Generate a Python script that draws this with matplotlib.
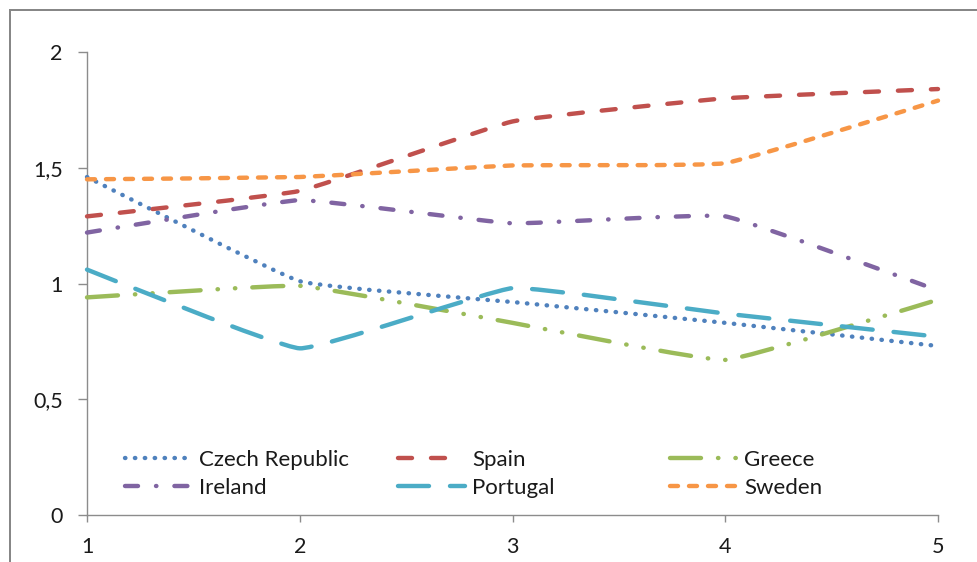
import matplotlib
matplotlib.use("Agg")
import matplotlib.pyplot as plt
import numpy as np
from matplotlib.path import Path
from matplotlib.patches import PathPatch
from matplotlib.lines import Line2D

plt.rcParams['font.family'] = ['Lato', 'DejaVu Sans']
plt.rcParams['lines.scale_dashes'] = False

# ---- data ----
x_vals = [1, 2, 3, 4, 5]
czech = [1.46, 1.01, 0.92, 0.83, 0.73]
spain = [1.29, 1.40, 1.70, 1.80, 1.84]
greece = [0.94, 0.99, 0.83, 0.67, 0.93]
ireland = [1.22, 1.36, 1.26, 1.29, 0.97]
portugal = [1.06, 0.72, 0.98, 0.87, 0.77]
sweden = [1.45, 1.46, 1.51, 1.52, 1.79]
y_ticks = [0, 0.5, 1, 1.5, 2]
y_tick_labels = ['0', '0,5', '1', '1,5', '2']
x_tick_labels = ['1', '2', '3', '4', '5']

W, H = 977, 562
fig = plt.figure(figsize=(W / 100, H / 100), dpi=100)
ax = fig.add_axes([87 / W, (H - 515) / H, (938 - 87) / W, (515 - 52) / H])
ax.set_xlim(1, 5)
ax.set_ylim(0, 2)

px = 0.72  # points per pixel
LW = 4.4 * px

series = [
    ('Czech Republic', czech, '#4F81BD', (0, (0.4 * px, 9.5 * px))),
    ('Spain', spain, '#C0504D', (0, (14 * px, 19 * px))),
    ('Greece', greece, '#9BBB59', (0, (31 * px, 17 * px, 0.4 * px, 17 * px, 0.4 * px, 17 * px))),
    ('Ireland', ireland, '#8064A2', (0, (13 * px, 18 * px, 0.4 * px, 18 * px))),
    ('Portugal', portugal, '#4BACC6', (0, (31 * px, 21 * px))),
    ('Sweden', sweden, '#F79646', (0, (8 * px, 11 * px))),
]
legend_styles = {'Spain': (0, (14 * px, 19 * px, 14 * px, 40 * px))}

TENSION = 1 / 20.0


def smooth_path(xs, ys):
    pts = np.column_stack([xs, ys]).astype(float)
    n = len(pts)
    verts = [pts[0]]
    codes = [Path.MOVETO]
    for i in range(n - 1):
        p0 = pts[i - 1] if i > 0 else pts[i]
        p3 = pts[i + 2] if i + 2 < n else pts[i + 1]
        c1 = pts[i] + (pts[i + 1] - p0) * TENSION
        c2 = pts[i + 1] - (p3 - pts[i]) * TENSION
        verts += [c1, c2, pts[i + 1]]
        codes += [Path.CURVE4] * 3
    return Path(verts, codes)


handles = {}
for name, vals, color, ls in series:
    patch = PathPatch(smooth_path(x_vals, vals), facecolor='none', edgecolor=color,
                      linewidth=LW, linestyle=ls, capstyle='round', joinstyle='round',
                      clip_on=False, zorder=3)
    ax.add_patch(patch)
    handles[name] = Line2D([], [], color=color, linewidth=LW,
                           linestyle=legend_styles.get(name, ls),
                           dash_capstyle='round', solid_capstyle='round')

# axes styling
axis_col = '#8c8c8c'
for s in ['top', 'right']:
    ax.spines[s].set_visible(False)
for s in ['left', 'bottom']:
    ax.spines[s].set_color(axis_col)
    ax.spines[s].set_linewidth(1.0)
ax.set_yticks(y_ticks)
ax.set_yticklabels(y_tick_labels)
ax.set_xticks(x_vals)
ax.set_xticklabels(x_tick_labels)
ax.tick_params(axis='y', direction='out', length=9 * px, width=1.0, color=axis_col,
               pad=11, labelsize=15.5, labelcolor='#1a1a1a')
ax.tick_params(axis='x', direction='out', length=7 * px, width=1.0, color=axis_col,
               pad=11, labelsize=15.5, labelcolor='#1a1a1a')

# legend: three columns built as separate legends
cols = [['Czech Republic', 'Ireland'], ['Spain', 'Portugal'], ['Greece', 'Sweden']]
col_x = [125, 398, 670]
yc = (H - 474) / H
for names, cx in zip(cols, col_x):
    leg = fig.legend([handles[n] for n in names], names, loc='center left',
                     bbox_to_anchor=(cx / W, yc), frameon=False, fontsize=16,
                     handlelength=3.0, handletextpad=0.35, labelspacing=0.38,
                     borderpad=0, borderaxespad=0)
    for t in leg.get_texts():
        t.set_color('#1a1a1a')

# outer border (left and top)
bcol = '#878787'
fig.add_artist(Line2D([9.5 / W, 9.5 / W], [0, (H - 10) / H], color=bcol, lw=2 * px,
                      transform=fig.transFigure))
fig.add_artist(Line2D([9.5 / W, 1], [(H - 10) / H, (H - 10) / H], color=bcol, lw=2 * px,
                      transform=fig.transFigure))

fig.savefig('out.png', dpi=100)
